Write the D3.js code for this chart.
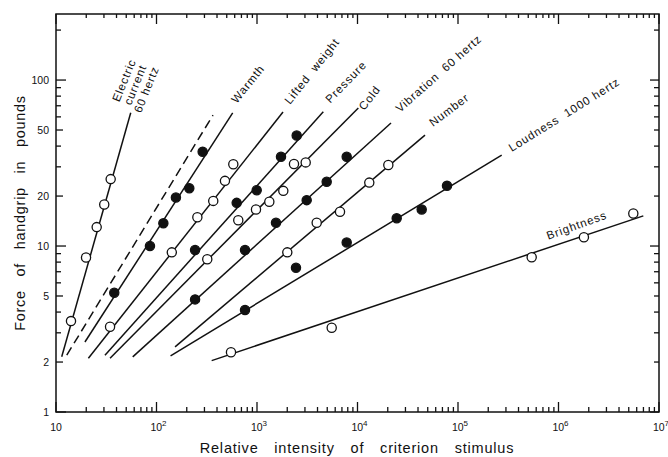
<!DOCTYPE html>
<html>
<head>
<meta charset="utf-8">
<script src="https://cdn.jsdelivr.net/npm/d3@7"></script>
<style>
body { margin: 0; background: #fff; }
svg text { font-family: "Liberation Sans", "DejaVu Sans", sans-serif; fill: #111; }
</style>
</head>
<body>
<div id="chart"></div>
<script>
// Axis ranges
var xDomain = [10, 1e7],
	yDomain = [1, 250];

// Tick labels
var xTickExp = [1, 2, 3, 4, 5, 6, 7];
var yTickLabels = [1, 2, 5, 10, 20, 50, 100];

// Matched points, one pair of arrays per continuum
var electricX = [14.1, 19.9, 25.4, 30.2, 35.0];
var electricY = [3.53, 8.52, 13.0, 17.8, 25.3];

var warmthX = [38.0, 86.1, 117, 156, 212, 288];
var warmthY = [5.23, 10.0, 13.7, 19.6, 22.3, 37.0];

var weightX = [34.5, 142, 255, 367, 480, 581];
var weightY = [3.26, 9.16, 14.9, 18.7, 24.7, 31.1];

var pressureX = [242, 628, 993, 1733, 2483];
var pressureY = [9.46, 18.2, 21.7, 34.5, 46.3];

var coldX = [320, 651, 977, 1326, 1827, 2334, 3052];
var coldY = [8.32, 14.3, 16.6, 18.5, 21.5, 31.2, 31.9];

var vibrationX = [242, 760, 1545, 3122, 4937, 7808];
var vibrationY = [4.77, 9.46, 13.8, 18.9, 24.4, 34.5];

var numberX = [2002, 3926, 6697, 13100, 20260];
var numberY = [9.16, 13.8, 16.1, 24.1, 30.8];

var loudnessX = [760, 2443, 7808, 24550, 43530, 77720];
var loudnessY = [4.12, 7.40, 10.5, 14.7, 16.6, 23.1];

var brightnessX = [551, 5538, 541000, 1790000, 5550000];
var brightnessY = [2.29, 3.22, 8.55, 11.3, 15.7];

// Fitted lines: [x start, y start, x end, y end]
var electricFit = [11.4, 2.15, 55.4, 63.5];
var dashedFit = [12.8, 2.20, 365, 61.5];
var warmthFit = [19.4, 2.64, 573, 63.4];
var weightFit = [21.0, 2.11, 1815, 64.2];
var pressureFit = [30.7, 2.20, 4567, 64.4];
var coldFit = [34.5, 2.11, 10190, 67.8];
var vibrationFit = [58.0, 2.15, 21540, 55.1];
var numberFit = [153, 2.47, 46950, 46.6];
var loudnessFit = [138, 2.18, 272100, 35.3];
var brightnessFit = [354, 2.04, 6980000, 15.2];

// Series table (label offsets are from the upper end of each line)
var series = [
	{ xs: electricX, ys: electricY, fit: electricFit, filled: false, label: ["Electric", "current", "60 hertz"], angle: -68, dx: -3, dy: -31 },
	{ xs: [], ys: [], fit: dashedFit, filled: false, dashed: true, label: [] },
	{ xs: warmthX, ys: warmthY, fit: warmthFit, filled: true, label: ["Warmth"], angle: -51, dx: 4, dy: -9 },
	{ xs: weightX, ys: weightY, fit: weightFit, filled: false, label: ["Lifted  weight"], angle: -51.5, dx: 7, dy: -7 },
	{ xs: pressureX, ys: pressureY, fit: pressureFit, filled: true, label: ["Pressure"], angle: -46, dx: 7, dy: -8 },
	{ xs: coldX, ys: coldY, fit: coldFit, filled: false, label: ["Cold"], angle: -52, dx: 6, dy: 3 },
	{ xs: vibrationX, ys: vibrationY, fit: vibrationFit, filled: true, label: ["Vibration  60 hertz"], angle: -41.5, dx: 9, dy: -10 },
	{ xs: numberX, ys: numberY, fit: numberFit, filled: false, label: ["Number"], angle: -37, dx: 8, dy: -8 },
	{ xs: loudnessX, ys: loudnessY, fit: loudnessFit, filled: true, label: ["Loudness  1000 hertz"], angle: -32, dx: 10, dy: -3 },
	{ xs: brightnessX, ys: brightnessY, fit: brightnessFit, filled: false, label: ["Brightness"], angle: -20, dx: -95, dy: 24 }
];

var width = 668,
	height = 457;

var x = d3.scaleLog().domain(xDomain).range([56, 659]);
var y = d3.scaleLog().domain(yDomain).range([412, 14]);

var svg = d3.select("#chart")
	.append("svg")
	.attr("width", width)
	.attr("height", height);

// Minor tick values on both axes
var xMinor = [];
for (var e = 1; e < 7; e++) {
	for (var k = 2; k < 10; k++) xMinor.push(k * Math.pow(10, e));
}
var xMajor = xTickExp.map(function(d) { return Math.pow(10, d); });

var yMinor = [];
[1, 10, 100].forEach(function(dec) {
	for (var k = 2; k < 10; k++) if (k * dec <= 250) yMinor.push(k * dec);
});
var yMajor = [1, 10, 100];

// Draw a set of tick marks on one side of the frame
function ticks(values, side, len) {
	svg.append("g").selectAll("line")
		.data(values).enter().append("line")
		.attr("x1", function(d) { return side == "left" ? 56 : side == "right" ? 659 : x(d); })
		.attr("x2", function(d) { return side == "left" ? 56 + len : side == "right" ? 659 - len : x(d); })
		.attr("y1", function(d) { return side == "top" ? 14 : side == "bottom" ? 412 : y(d); })
		.attr("y2", function(d) { return side == "top" ? 14 + len : side == "bottom" ? 412 - len : y(d); })
		.style("stroke", "#111")
		.style("stroke-width", 1.3);
}

ticks(xMajor, "bottom", 10);
ticks(xMinor, "bottom", 5);
ticks(xMajor, "top", 10);
ticks(xMinor, "top", 4);
ticks(yMajor, "left", 10);
ticks(yMinor.filter(function(d) { return yTickLabels.indexOf(d) >= 0; }), "left", 7);
ticks(yMinor.filter(function(d) { return yTickLabels.indexOf(d) < 0; }), "left", 5);
ticks(yMajor, "right", 9);
ticks(yMinor, "right", 5);

// Frame
svg.append("rect")
	.attr("x", 56)
	.attr("y", 14)
	.attr("width", 603)
	.attr("height", 398)
	.style("fill", "none")
	.style("stroke", "#111")
	.style("stroke-width", 1.5);

// X tick labels (powers of ten)
var xLab = svg.append("g").selectAll("text")
	.data(xTickExp).enter().append("text")
	.attr("x", function(d) { return x(Math.pow(10, d)) + (d == 1 ? 0 : 2); })
	.attr("y", 431)
	.attr("text-anchor", "middle")
	.style("font-size", "10.5px");
xLab.append("tspan").text("10");
xLab.filter(function(d) { return d > 1; }).append("tspan")
	.attr("dy", -5)
	.style("font-size", "8px")
	.text(function(d) { return d; });

// Y tick labels
svg.append("g").selectAll("text")
	.data(yTickLabels).enter().append("text")
	.attr("x", 49)
	.attr("y", function(d) { return y(d) + 4; })
	.attr("text-anchor", "end")
	.style("font-size", "10.5px")
	.text(function(d) { return d; });

// Axis titles
svg.append("text")
	.attr("x", 357)
	.attr("y", 453)
	.attr("text-anchor", "middle")
	.style("font-size", "14.5px")
	.style("letter-spacing", "0.8px")
	.style("word-spacing", "11px")
	.text("Relative intensity of criterion stimulus");

svg.append("text")
	.attr("transform", "translate(25,213) rotate(-90)")
	.attr("text-anchor", "middle")
	.style("font-size", "14.5px")
	.style("letter-spacing", "0.7px")
	.style("word-spacing", "9px")
	.text("Force of handgrip in pounds");

// Fitted lines
svg.append("g").selectAll("line")
	.data(series).enter().append("line")
	.attr("x1", function(d) { return x(d.fit[0]); })
	.attr("y1", function(d) { return y(d.fit[1]); })
	.attr("x2", function(d) { return x(d.fit[2]); })
	.attr("y2", function(d) { return y(d.fit[3]); })
	.style("stroke", "#111")
	.style("stroke-width", 1.5)
	.style("stroke-dasharray", function(d) { return d.dashed ? "9,5" : null; });

// Points
series.forEach(function(s) {
	svg.append("g").selectAll("circle")
		.data(s.xs).enter().append("circle")
		.attr("cx", function(d) { return x(d); })
		.attr("cy", function(d, i) { return y(s.ys[i]); })
		.attr("r", 4.6)
		.style("fill", s.filled ? "#111" : "#fff")
		.style("stroke", "#111")
		.style("stroke-width", 1.3);
});

// Line labels
series.filter(function(s) { return s.label.length; }).forEach(function(s) {
	var px = x(s.fit[2]) + s.dx,
		py = y(s.fit[3]) + s.dy;
	var t = svg.append("text")
		.attr("transform", "translate(" + px + "," + py + ") rotate(" + s.angle + ")")
		.attr("text-anchor", s.label.length > 1 ? "middle" : "start")
		.style("font-size", "11.5px")
		.style("letter-spacing", "0.9px")
		.style("white-space", "pre");
	t.selectAll("tspan")
		.data(s.label).enter().append("tspan")
		.attr("x", 0)
		.attr("dy", function(d, i) { return i == 0 ? 0 : "1.05em"; })
		.text(function(d) { return d; });
});
</script>
</body>
</html>
